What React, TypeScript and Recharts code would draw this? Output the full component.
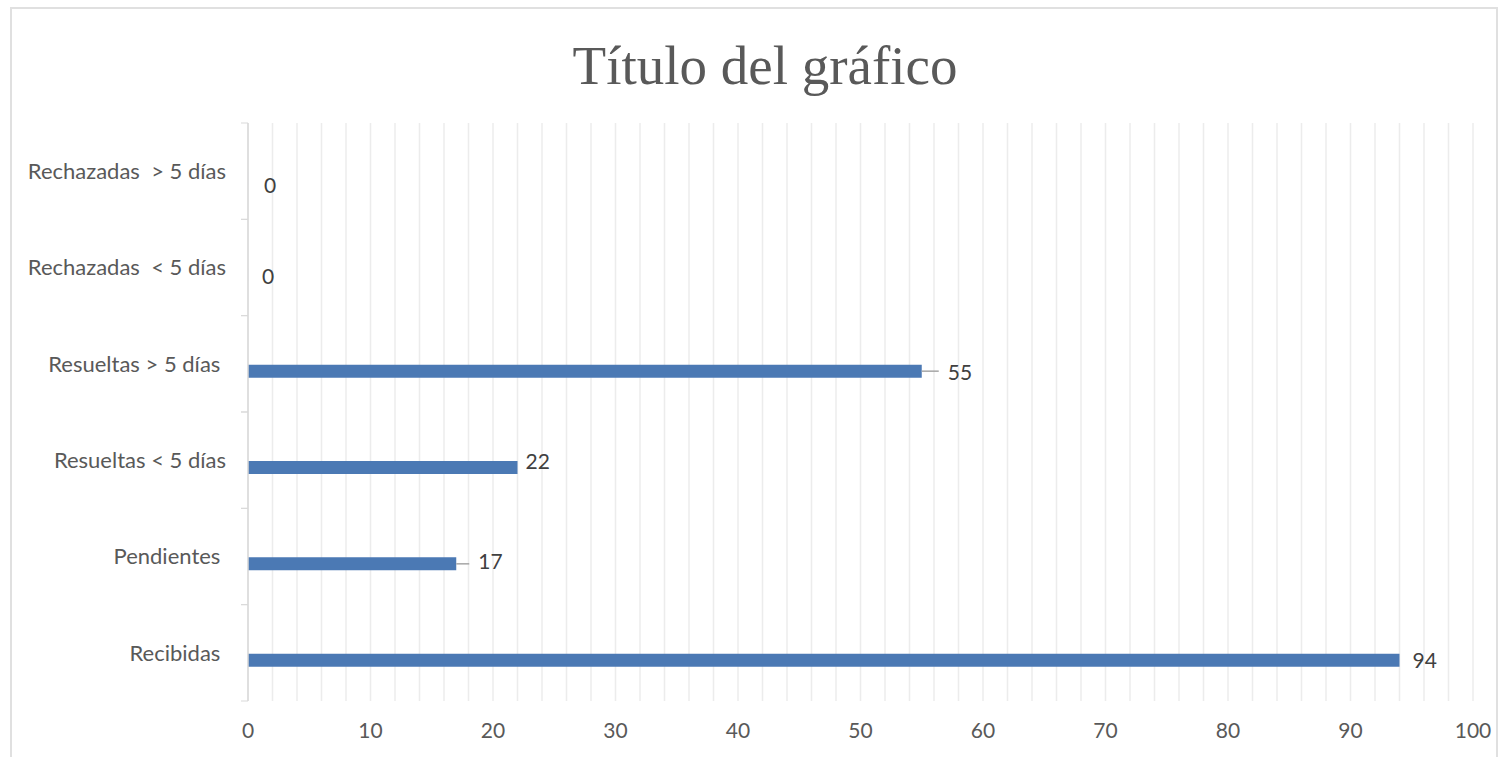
import React from "react";
import { BarChart, Bar, XAxis, YAxis, CartesianGrid, LabelList } from "recharts";

// categories as written in the sheet (some have trailing spaces)
const categories = [
  "Recibidas ",
  "Pendientes ",
  "Resueltas < 5 días",
  "Resueltas > 5 días ",
  "Rechazadas  < 5 días",
  "Rechazadas  > 5 días",
];
const values = [94, 17, 22, 55, 0, 0];

const gridTicks = [
  0, 2, 4, 6, 8, 10, 12, 14, 16, 18, 20, 22, 24, 26, 28, 30, 32, 34, 36, 38, 40, 42, 44, 46, 48, 50,
  52, 54, 56, 58, 60, 62, 64, 66, 68, 70, 72, 74, 76, 78, 80, 82, 84, 86, 88, 90, 92, 94, 96, 98, 100,
];
const tickLabels = [0, 10, 20, 30, 40, 50, 60, 70, 80, 90, 100];

const data = categories.map((name, i) => ({ name, serie1: null, serie2: values[i] }));

// manual label placement, like the dragged labels in the original
const labelNudge: Record<number, { dx: number; dy: number; leader?: boolean }> = {
  0: { dx: 13, dy: 0 },
  1: { dx: 22, dy: -2, leader: true },
  2: { dx: 8, dy: -6 },
  3: { dx: 26, dy: 1, leader: true },
  4: { dx: 14, dy: 2 },
  5: { dx: 16, dy: 7 },
};

const FONT = "Lato, 'Open Sans', sans-serif";

const CategoryTick = (props: any) => {
  const { x, y, payload } = props;
  const half = payload?.offset || 48;
  return (
    <g>
      <line x1={x + 15} x2={x + 22} y1={y - half} y2={y - half} stroke="#d9d9d9" />
      <line x1={x + 15} x2={x + 22} y1={y + half} y2={y + half} stroke="#d9d9d9" />
      <text
        x={x}
        y={y}
        dy="0.35em"
        textAnchor="end"
        fill="#595959"
        fontSize={22}
        fontFamily={FONT}
        style={{ whiteSpace: "pre" }}
      >
        {payload.value}
      </text>
    </g>
  );
};

const ValueLabel = (props: any) => {
  const { x, y, width, height, value, index } = props;
  const n = labelNudge[index] || { dx: 10, dy: 0 };
  const end = x + width;
  const cy = y + height / 2;
  return (
    <g>
      {n.leader && <line x1={end} x2={end + n.dx - 9} y1={cy} y2={cy} stroke="#a6a6a6" strokeWidth={1.5} />}
      <text x={end + n.dx} y={cy + n.dy} dy="0.35em" fill="#404040" fontSize={21} fontFamily={FONT}>
        {value}
      </text>
    </g>
  );
};

export default function App() {
  return (
    <div style={{ position: "relative", width: 1506, height: 757, overflow: "hidden", background: "#fff" }}>
      <style>{"body{margin:0}"}</style>
      <div
        style={{
          position: "absolute",
          left: 10,
          top: 7,
          width: 1488,
          height: 780,
          border: "2px solid #e0e0e0",
          boxSizing: "border-box",
        }}
      />
      <div
        style={{
          position: "absolute",
          left: 0,
          width: 1530,
          top: 36,
          textAlign: "center",
          fontFamily: "'Liberation Serif', serif",
          fontSize: 55,
          lineHeight: "60px",
          color: "#595959",
        }}
      >
        Título del gráfico
      </div>
      <div style={{ position: "absolute", left: 0, top: 0 }}>
        <BarChart
          width={1506}
          height={757}
          data={data}
          layout="vertical"
          margin={{ top: 123, right: 33, bottom: 0, left: 0 }}
          barSize={13}
          barGap={2}
        >
          <CartesianGrid horizontal={false} stroke="#ececec" strokeWidth={1.5} />
          <XAxis
            type="number"
            domain={[0, 100]}
            ticks={gridTicks}
            interval={0}
            height={56}
            axisLine={false}
            tickLine={false}
            tickSize={0}
            tickMargin={22}
            tickFormatter={(v: number) => (tickLabels.includes(v) ? String(v) : "")}
            tick={{ fill: "#595959", fontSize: 21, fontFamily: FONT }}
          />
          <YAxis
            type="category"
            dataKey="name"
            reversed
            width={248}
            axisLine={{ stroke: "#d9d9d9", strokeWidth: 1.5 }}
            tickLine={false}
            tickSize={0}
            tickMargin={22}
            interval={0}
            tick={<CategoryTick />}
          />
          <Bar dataKey="serie1" fill="#4B79B4" isAnimationActive={false} />
          <Bar
            dataKey="serie2"
            fill="#4B79B4"
            isAnimationActive={false}
            minPointSize={(v: number) => (v === 0 ? 0.01 : 0)}
          >
            <LabelList dataKey="serie2" content={<ValueLabel />} />
          </Bar>
        </BarChart>
      </div>
    </div>
  );
}
